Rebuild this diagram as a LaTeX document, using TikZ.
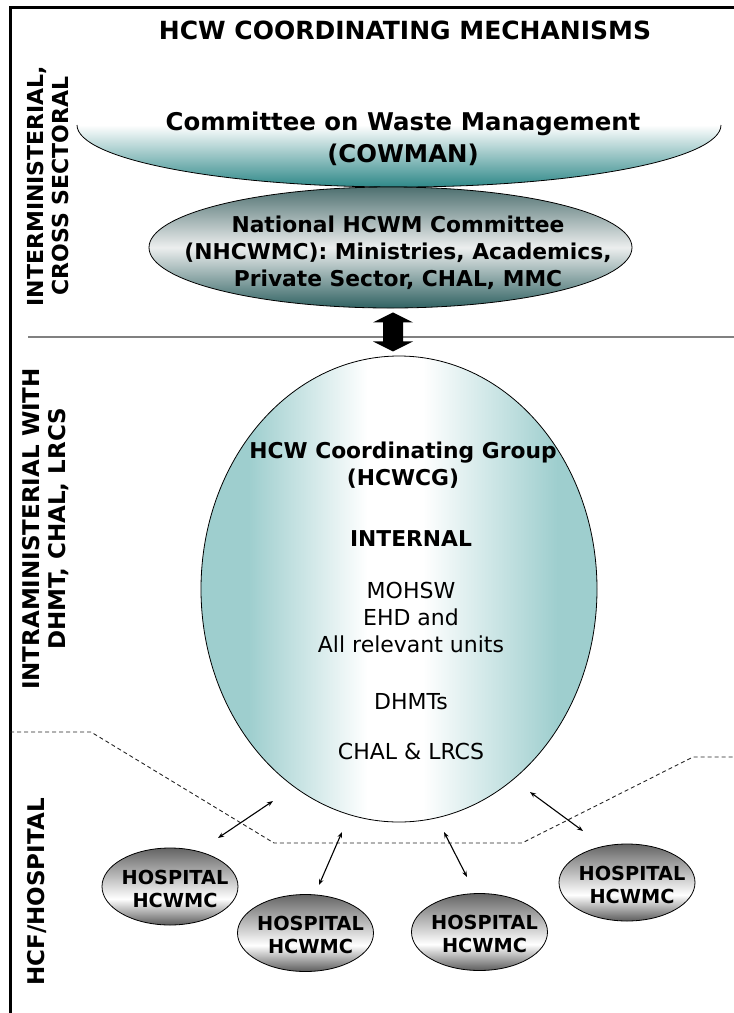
\documentclass[tikz,border=0pt]{standalone}
\usepackage{fontspec}
\setmainfont{DejaVu Sans}
\usepackage{tikz}
\usetikzlibrary{arrows.meta,shapes.geometric}

\definecolor{hcwteal}{RGB}{158,206,206}
\definecolor{cowteal}{RGB}{46,136,136}
\definecolor{nhctop}{RGB}{78,112,112}
\definecolor{nhcmid}{RGB}{236,238,238}
\definecolor{nhcbot}{RGB}{48,98,98}
\definecolor{hosptop}{RGB}{100,100,100}
\definecolor{hospbot}{RGB}{92,92,92}

% gradients of the ovals
\pgfdeclarehorizontalshading{hcwgshade}{100bp}{color(0bp)=(hcwteal); color(25bp)=(hcwteal); color(31bp)=(hcwteal); color(46bp)=(white); color(53bp)=(white); color(70bp)=(hcwteal); color(75bp)=(hcwteal); color(100bp)=(hcwteal)}
\pgfdeclareverticalshading{cowshade}{100bp}{color(0bp)=(cowteal); color(25bp)=(cowteal); color(75bp)=(white); color(100bp)=(white)}
\pgfdeclareverticalshading{nhcshade}{100bp}{color(0bp)=(nhcbot); color(25bp)=(nhcbot); color(50bp)=(nhcmid); color(75bp)=(nhctop); color(100bp)=(nhctop)}
\pgfdeclareverticalshading{hospshade}{100bp}{color(0bp)=(hospbot); color(25bp)=(hospbot); color(42bp)=(white); color(75bp)=(hosptop); color(100bp)=(hosptop)}

\begin{document}
\begin{tikzpicture}[
    % one unit is one pixel, y going down
    x=1pt, y=-1pt,
    % type of arrow head
    >={Stealth[length=6pt,width=4.5pt]},
    every node/.style = {align=center},
    %
    frame/.style = {line width=2.6pt},
    sep/.style = {draw=gray, line width=1.8pt},
    zone/.style = {draw=black!85, dash pattern=on 4pt off 3pt, line width=0.9pt},
    side/.style = {rotate=90, font=\fontsize{22}{25}\selectfont\bfseries},
    oval/.style = {ellipse, draw=black, line width=0.8pt, inner sep=0pt, shade},
    hosp/.style = {oval, shading=hospshade, minimum width=136pt, minimum height=77pt},
    titletxt/.style = {font=\fontsize{25}{30}\selectfont\bfseries},
    cowtxt/.style = {font=\fontsize{24.4}{32}\selectfont\bfseries},
    boldtxt/.style = {font=\fontsize{21.8}{27}\selectfont\bfseries},
    plaintxt/.style = {font=\fontsize{22}{27}\selectfont},
    hosptxt/.style = {font=\fontsize{19.3}{23}\selectfont\bfseries, xshift=5pt, yshift=-2pt},
    line/.style = {<->, draw=black, line width=1.1pt}
    ]

    \useasboundingbox (0,0) rectangle (734,1013);

    % frame and zones
    \draw[frame] (10.5,1013) -- (10.5,7.5) -- (734,7.5);
    \draw[sep] (28,337) -- (734,337);
    \draw[zone] (10,732) -- (91,732) -- (274,843) -- (522,843) -- (693,757) -- (734,757);

    \node (title) [titletxt] at (405,30) {HCW COORDINATING MECHANISMS};

    \node (lvl1) [side] at (47.5,186) {INTERMINISTERIAL,\\CROSS SECTORAL};
    \node (lvl2) [side, font=\fontsize{23}{26}\selectfont\bfseries] at (46,529) {INTRAMINISTERIAL WITH\\DHMT, CHAL, LRCS};
    \node (lvl3) [side, font=\fontsize{23}{26}\selectfont\bfseries] at (37.5,892) {HCF/HOSPITAL};

    % cowman bowl
    \shade[shading=cowshade] (77,125) arc[start angle=180, end angle=360, x radius=322pt, y radius=62pt] -- cycle;
    \draw[line width=0.8pt] (77,125) arc[start angle=180, end angle=360, x radius=322pt, y radius=62pt];
    \node (cowman) [cowtxt] at (403,139) {Committee on Waste Management\\(COWMAN)};

    % nodes
    \node (nhcwmc) [oval, shading=nhcshade, minimum width=483pt, minimum height=121pt] at (390.5,247.5) {};
    \node (nhcwmc-txt) [boldtxt] at (398,253) {National HCWM Committee\\(NHCWMC): Ministries, Academics,\\Private Sector, CHAL, MMC};

    \node (hcwcg) [oval, shading=hcwgshade, minimum width=396pt, minimum height=466pt] at (399,589) {};
    \node (hcwcg-txt) [boldtxt] at (403,465.5) {HCW Coordinating Group\\(HCWCG)};
    \node (internal) [boldtxt] at (411,539) {INTERNAL};
    \node (units) [plaintxt] at (411,617) {MOHSW\\EHD and\\All relevant units};
    \node (dhmts) [plaintxt] at (411,702) {DHMTs};
    \node (chal) [plaintxt] at (411,751) {CHAL \& LRCS};

    \node (hosp1) [hosp, label={[hosptxt]center:HOSPITAL\\HCWMC}] at (170,886.5) {};
    \node (hosp2) [hosp, label={[hosptxt]center:HOSPITAL\\HCWMC}] at (305.5,933) {};
    \node (hosp3) [hosp, label={[hosptxt]center:HOSPITAL\\HCWMC}] at (479.5,932) {};
    \node (hosp4) [hosp, label={[hosptxt]center:HOSPITAL\\HCWMC}] at (627,882.5) {};

    % ends of the links
    \coordinate (a1) at (273,801);
    \coordinate (b1) at (218,838);
    \coordinate (a2) at (342,832);
    \coordinate (b2) at (319,885);
    \coordinate (a3) at (444,832);
    \coordinate (b3) at (467,877);
    \coordinate (a4) at (530,792);
    \coordinate (b4) at (583,831);

    % edges
    \fill (nhcwmc.south) ++(2.5,4) -- ++(20,10) -- ++(-10,0) -- ++(0,19) -- ++(10,0) -- ++(-20,10)
        -- ++(-20,-10) -- ++(10,0) -- ++(0,-19) -- ++(-10,0) -- cycle;

    \path[line] (b1) -- (a1);
    \path[line] (b2) -- (a2);
    \path[line] (b3) -- (a3);
    \path[line] (b4) -- (a4);
\end{tikzpicture}
\end{document}
